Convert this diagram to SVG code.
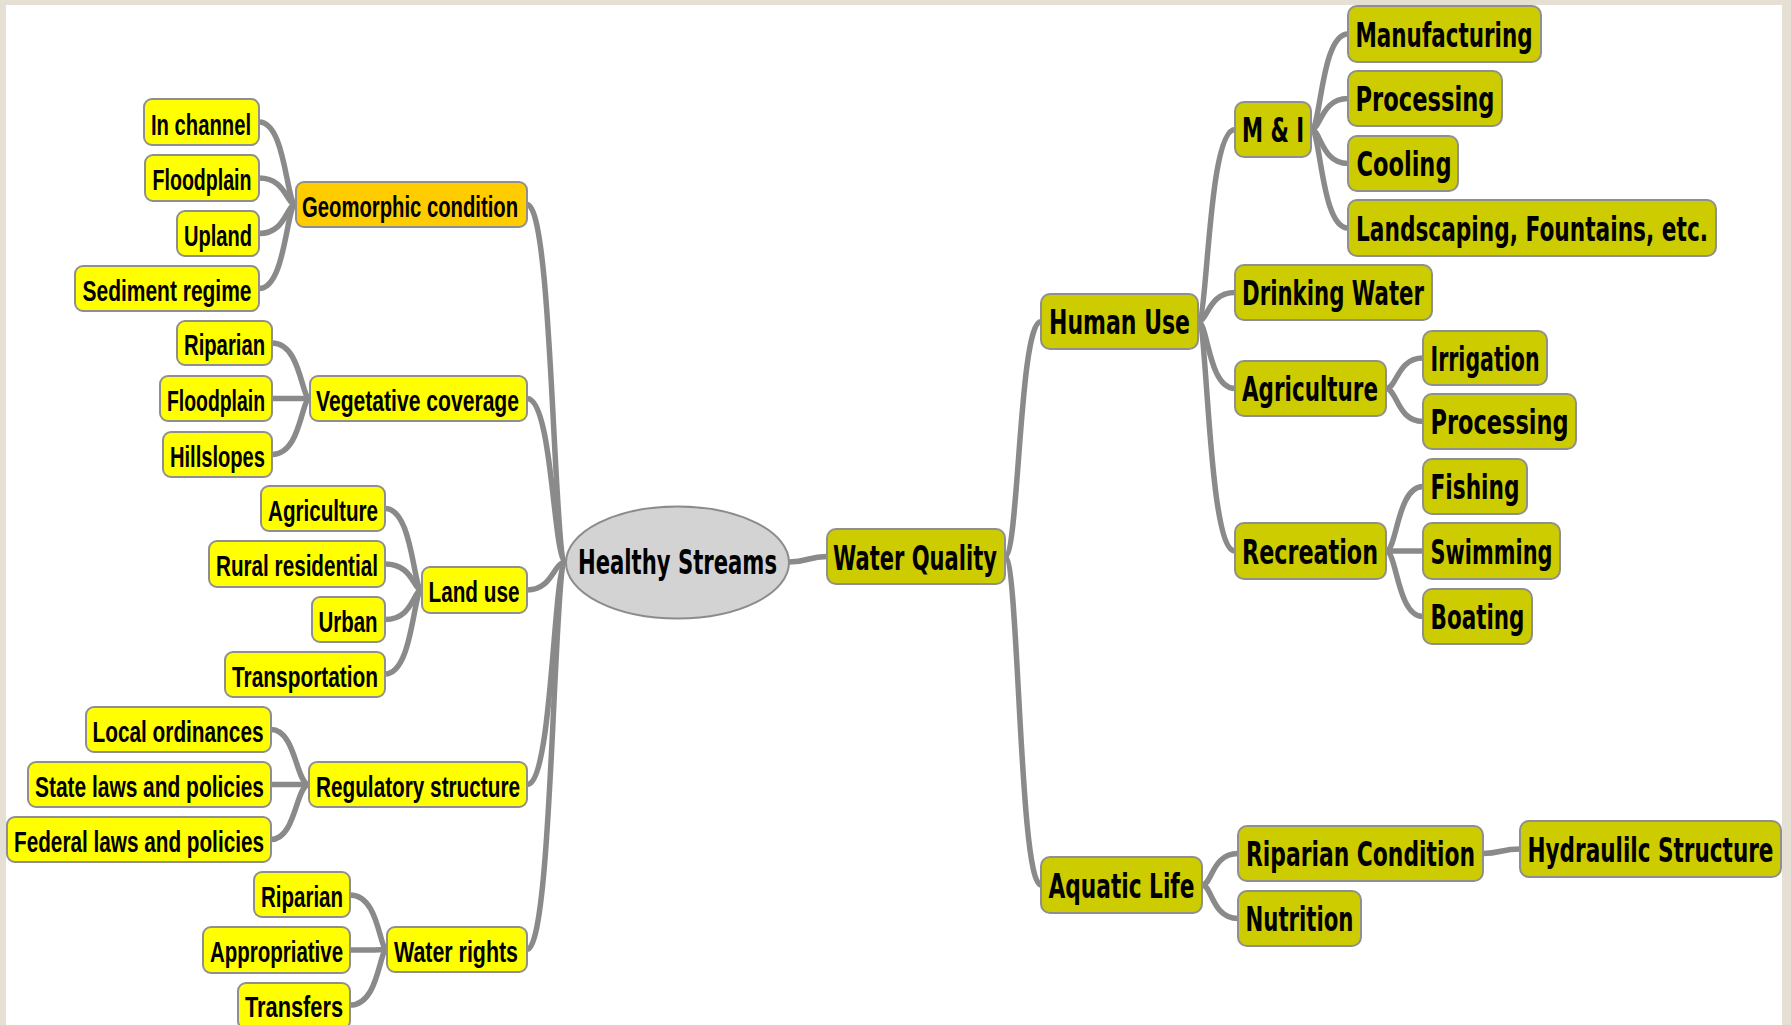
<svg xmlns="http://www.w3.org/2000/svg" width="1791" height="1025" viewBox="0 0 1791 1025">
  <style>
    .frame { fill: #e6dfd3; }
    .panel { fill: #ffffff; }
    .edge { fill: none; stroke: #8a8a8a; stroke-width: 5.5; stroke-linecap: round; }
    .bl { fill: #ffff00; stroke: #8f8f8f; stroke-width: 2; }
    .bg { fill: #ffcc00; stroke: #8f8f8f; stroke-width: 2; }
    .br { fill: #cccc00; stroke: #8f8f8f; stroke-width: 2; }
    .root { fill: #d3d3d3; stroke: #8c8c8c; stroke-width: 2; }
    /* condensed labels: glyphs are narrowed by a horizontal scale on each text */
    .tl { font-family: "Liberation Sans", Arial, sans-serif; font-weight: bold; font-size: 30px; fill: #000; text-anchor: middle; }
    .tr { font-family: "DejaVu Sans", Verdana, "Liberation Sans", sans-serif; font-weight: bold; font-size: 33px; fill: #000; text-anchor: middle; }
  </style>

  <!-- textured frame and white drawing panel -->
  <rect class="frame" x="0" y="0" width="1791" height="1025"/>
  <rect class="panel" x="6" y="5" width="1776" height="1025"/>

  <!-- connectors (drawn beneath the nodes) -->
  <g id="connectors">
    <!-- root to left branches -->
    <path class="edge" d="M527 204.5 C553 204.5 553 562 566 562"/>
    <path class="edge" d="M527 398.5 C553 398.5 553 562 566 562"/>
    <path class="edge" d="M527 590 C553 590 553 562 566 562"/>
    <path class="edge" d="M527 784.5 C553 784.5 553 562 566 562"/>
    <path class="edge" d="M527 949.5 C553 949.5 553 562 566 562"/>
    <!-- geomorphic condition -->
    <path class="edge" d="M259 122 C286 122 286 204.5 296 204.5"/>
    <path class="edge" d="M259 178 C286 178 286 204.5 296 204.5"/>
    <path class="edge" d="M259 233.5 C286 233.5 286 204.5 296 204.5"/>
    <path class="edge" d="M259 288.5 C286 288.5 286 204.5 296 204.5"/>
    <!-- vegetative coverage -->
    <path class="edge" d="M272 343 C301 343 301 398.5 310 398.5"/>
    <path class="edge" d="M272 398.5 C301 398.5 301 398.5 310 398.5"/>
    <path class="edge" d="M272 454.5 C301 454.5 301 398.5 310 398.5"/>
    <!-- land use -->
    <path class="edge" d="M385 508.5 C413 508.5 413 590 422 590"/>
    <path class="edge" d="M385 564 C413 564 413 590 422 590"/>
    <path class="edge" d="M385 619.5 C413 619.5 413 590 422 590"/>
    <path class="edge" d="M385 674 C413 674 413 590 422 590"/>
    <!-- regulatory structure -->
    <path class="edge" d="M271 729.5 C296 729.5 296 784.5 309 784.5"/>
    <path class="edge" d="M271 784.5 C296 784.5 296 784.5 309 784.5"/>
    <path class="edge" d="M271 839.5 C296 839.5 296 784.5 309 784.5"/>
    <!-- water rights -->
    <path class="edge" d="M350 895 C379 895 379 949.5 387 949.5"/>
    <path class="edge" d="M350 950 C379 950 379 949.5 387 949.5"/>
    <path class="edge" d="M350 1005 C379 1005 379 949.5 387 949.5"/>
    <!-- root to water quality -->
    <path class="edge" d="M789 562 C808 562 808 556.5 827 556.5"/>
    <!-- water quality -->
    <path class="edge" d="M1005 556.5 C1019 556.5 1019 321.5 1041 321.5"/>
    <path class="edge" d="M1005 556.5 C1019 556.5 1019 885 1041 885"/>
    <!-- human use -->
    <path class="edge" d="M1198 321.5 C1208 321.5 1208 129.5 1235 129.5"/>
    <path class="edge" d="M1198 321.5 C1208 321.5 1208 292.5 1235 292.5"/>
    <path class="edge" d="M1198 321.5 C1208 321.5 1208 388.5 1235 388.5"/>
    <path class="edge" d="M1198 321.5 C1208 321.5 1208 551 1235 551"/>
    <!-- M & I -->
    <path class="edge" d="M1311 129.5 C1321 129.5 1321 34 1348 34"/>
    <path class="edge" d="M1311 129.5 C1321 129.5 1321 98.5 1348 98.5"/>
    <path class="edge" d="M1311 129.5 C1321 129.5 1321 163.5 1348 163.5"/>
    <path class="edge" d="M1311 129.5 C1321 129.5 1321 228 1348 228"/>
    <!-- agriculture -->
    <path class="edge" d="M1386 388.5 C1397 388.5 1397 358 1423 358"/>
    <path class="edge" d="M1386 388.5 C1397 388.5 1397 421.5 1423 421.5"/>
    <!-- recreation -->
    <path class="edge" d="M1386 551 C1397 551 1397 486.5 1423 486.5"/>
    <path class="edge" d="M1386 551 C1397 551 1397 551 1423 551"/>
    <path class="edge" d="M1386 551 C1397 551 1397 616.5 1423 616.5"/>
    <!-- aquatic life -->
    <path class="edge" d="M1202 885 C1212 885 1212 853.5 1238 853.5"/>
    <path class="edge" d="M1202 885 C1212 885 1212 918.5 1238 918.5"/>
    <!-- riparian condition -->
    <path class="edge" d="M1483 853.5 C1501 853.5 1501 849 1520 849"/>
  </g>

  <!-- left branches -->
  <g id="n-in-channel"><rect class="bl" x="144" y="99" width="115" height="46" rx="8"/><text class="tl" transform="translate(201 135) scale(0.7 1)" textLength="142.9" lengthAdjust="spacingAndGlyphs">In channel</text></g>
  <g id="n-floodplain-geo"><rect class="bl" x="145" y="155" width="114" height="46" rx="8"/><text class="tl" transform="translate(202 190) scale(0.7 1)" textLength="141.4" lengthAdjust="spacingAndGlyphs">Floodplain</text></g>
  <g id="n-upland"><rect class="bl" x="177" y="211" width="82" height="45" rx="8"/><text class="tl" transform="translate(218 245.5) scale(0.7 1)" textLength="97.1" lengthAdjust="spacingAndGlyphs">Upland</text></g>
  <g id="n-sediment"><rect class="bl" x="75" y="266" width="184" height="45" rx="8"/><text class="tl" transform="translate(167 300.5) scale(0.7 1)" textLength="241.4" lengthAdjust="spacingAndGlyphs">Sediment regime</text></g>
  <g id="n-geomorphic"><rect class="bg" x="296" y="182" width="231" height="45" rx="8"/><text class="tl" transform="translate(410 216.5) scale(0.7 1)" textLength="308.6" lengthAdjust="spacingAndGlyphs">Geomorphic condition</text></g>

  <g id="n-riparian-veg"><rect class="bl" x="177" y="321" width="95" height="44" rx="8"/><text class="tl" transform="translate(224.5 355) scale(0.7 1)" textLength="115.7" lengthAdjust="spacingAndGlyphs">Riparian</text></g>
  <g id="n-floodplain-veg"><rect class="bl" x="160" y="376" width="112" height="45" rx="8"/><text class="tl" transform="translate(216 410.5) scale(0.7 1)" textLength="140" lengthAdjust="spacingAndGlyphs">Floodplain</text></g>
  <g id="n-hillslopes"><rect class="bl" x="163" y="432" width="109" height="45" rx="8"/><text class="tl" transform="translate(217.5 466.5) scale(0.7 1)" textLength="135.7" lengthAdjust="spacingAndGlyphs">Hillslopes</text></g>
  <g id="n-vegetative"><rect class="bl" x="310" y="376" width="217" height="45" rx="8"/><text class="tl" transform="translate(417.5 410.5) scale(0.7 1)" textLength="290" lengthAdjust="spacingAndGlyphs">Vegetative coverage</text></g>

  <g id="n-agriculture-land"><rect class="bl" x="261" y="486" width="124" height="45" rx="8"/><text class="tl" transform="translate(323 520.5) scale(0.7 1)" textLength="157.1" lengthAdjust="spacingAndGlyphs">Agriculture</text></g>
  <g id="n-rural"><rect class="bl" x="209" y="541" width="176" height="46" rx="8"/><text class="tl" transform="translate(297 576) scale(0.7 1)" textLength="231.4" lengthAdjust="spacingAndGlyphs">Rural residential</text></g>
  <g id="n-urban"><rect class="bl" x="312" y="597" width="73" height="45" rx="8"/><text class="tl" transform="translate(348 631.5) scale(0.7 1)" textLength="84.3" lengthAdjust="spacingAndGlyphs">Urban</text></g>
  <g id="n-transport"><rect class="bl" x="225" y="652" width="160" height="45" rx="8"/><text class="tl" transform="translate(305 686.5) scale(0.7 1)" textLength="208.6" lengthAdjust="spacingAndGlyphs">Transportation</text></g>
  <g id="n-landuse"><rect class="bl" x="422" y="567" width="105" height="46" rx="8"/><text class="tl" transform="translate(474 602) scale(0.7 1)" textLength="130" lengthAdjust="spacingAndGlyphs">Land use</text></g>

  <g id="n-local"><rect class="bl" x="86" y="707" width="185" height="45" rx="8"/><text class="tl" transform="translate(178 741.5) scale(0.7 1)" textLength="244.3" lengthAdjust="spacingAndGlyphs">Local ordinances</text></g>
  <g id="n-state"><rect class="bl" x="28" y="762" width="243" height="45" rx="8"/><text class="tl" transform="translate(149.5 796.5) scale(0.7 1)" textLength="327.1" lengthAdjust="spacingAndGlyphs">State laws and policies</text></g>
  <g id="n-federal"><rect class="bl" x="7" y="817" width="264" height="45" rx="8"/><text class="tl" transform="translate(139 851.5) scale(0.7 1)" textLength="357.1" lengthAdjust="spacingAndGlyphs">Federal laws and policies</text></g>
  <g id="n-regulatory"><rect class="bl" x="309" y="762" width="218" height="45" rx="8"/><text class="tl" transform="translate(418 796.5) scale(0.7 1)" textLength="291.4" lengthAdjust="spacingAndGlyphs">Regulatory structure</text></g>

  <g id="n-riparian-wr"><rect class="bl" x="254" y="872" width="96" height="45" rx="8"/><text class="tl" transform="translate(302 906.5) scale(0.7 1)" textLength="117.1" lengthAdjust="spacingAndGlyphs">Riparian</text></g>
  <g id="n-appropriative"><rect class="bl" x="203" y="927" width="147" height="46" rx="8"/><text class="tl" transform="translate(276.5 962) scale(0.7 1)" textLength="190" lengthAdjust="spacingAndGlyphs">Appropriative</text></g>
  <g id="n-transfers"><rect class="bl" x="238" y="983" width="112" height="46" rx="8"/><text class="tl" transform="translate(294 1017) scale(0.7 1)" textLength="140" lengthAdjust="spacingAndGlyphs">Transfers</text></g>
  <g id="n-waterrights"><rect class="bl" x="387" y="927" width="140" height="45" rx="8"/><text class="tl" transform="translate(456 961.5) scale(0.7 1)" textLength="177.1" lengthAdjust="spacingAndGlyphs">Water rights</text></g>

  <!-- central topic -->
  <g id="n-root"><ellipse class="root" cx="677.5" cy="562.5" rx="111.5" ry="56"/><text class="tr" transform="translate(677.5 574) scale(0.66 1)" textLength="301.5" lengthAdjust="spacingAndGlyphs">Healthy Streams</text></g>
  <g id="n-waterquality"><rect class="br" x="827" y="529" width="178" height="55" rx="9"/><text class="tr" transform="translate(915 569.5) scale(0.66 1)" textLength="248.5" lengthAdjust="spacingAndGlyphs">Water Quality</text></g>

  <!-- right branches -->
  <g id="n-humanuse"><rect class="br" x="1041" y="294" width="157" height="55" rx="9"/><text class="tr" transform="translate(1119.5 334) scale(0.66 1)" textLength="213.6" lengthAdjust="spacingAndGlyphs">Human Use</text></g>
  <g id="n-mi"><rect class="br" x="1235" y="102" width="76" height="55" rx="9"/><text class="tr" transform="translate(1273 142) scale(0.66 1)" textLength="93.9" lengthAdjust="spacingAndGlyphs">M &amp; I</text></g>
  <g id="n-manufacturing"><rect class="br" x="1348" y="6" width="193" height="56" rx="9"/><text class="tr" transform="translate(1444 47) scale(0.66 1)" textLength="268.2" lengthAdjust="spacingAndGlyphs">Manufacturing</text></g>
  <g id="n-processing-mi"><rect class="br" x="1348" y="71" width="154" height="55" rx="9"/><text class="tr" transform="translate(1425 111) scale(0.66 1)" textLength="210.6" lengthAdjust="spacingAndGlyphs">Processing</text></g>
  <g id="n-cooling"><rect class="br" x="1348" y="136" width="110" height="55" rx="9"/><text class="tr" transform="translate(1404 176) scale(0.66 1)" textLength="143.9" lengthAdjust="spacingAndGlyphs">Cooling</text></g>
  <g id="n-landscaping"><rect class="br" x="1348" y="200" width="368" height="56" rx="9"/><text class="tr" transform="translate(1532 241) scale(0.66 1)" textLength="533.3" lengthAdjust="spacingAndGlyphs">Landscaping, Fountains, etc.</text></g>
  <g id="n-drinking"><rect class="br" x="1235" y="265" width="197" height="55" rx="9"/><text class="tr" transform="translate(1333 305) scale(0.66 1)" textLength="275.8" lengthAdjust="spacingAndGlyphs">Drinking Water</text></g>
  <g id="n-agriculture"><rect class="br" x="1235" y="361" width="151" height="55" rx="9"/><text class="tr" transform="translate(1310 401) scale(0.66 1)" textLength="206.1" lengthAdjust="spacingAndGlyphs">Agriculture</text></g>
  <g id="n-irrigation"><rect class="br" x="1423" y="331" width="124" height="54" rx="9"/><text class="tr" transform="translate(1485 370.5) scale(0.66 1)" textLength="165.2" lengthAdjust="spacingAndGlyphs">Irrigation</text></g>
  <g id="n-processing-ag"><rect class="br" x="1423" y="394" width="153" height="55" rx="9"/><text class="tr" transform="translate(1499.5 434) scale(0.66 1)" textLength="209.1" lengthAdjust="spacingAndGlyphs">Processing</text></g>
  <g id="n-recreation"><rect class="br" x="1235" y="523" width="151" height="56" rx="9"/><text class="tr" transform="translate(1310 564) scale(0.66 1)" textLength="206.1" lengthAdjust="spacingAndGlyphs">Recreation</text></g>
  <g id="n-fishing"><rect class="br" x="1423" y="459" width="104" height="55" rx="9"/><text class="tr" transform="translate(1475 499) scale(0.66 1)" textLength="134.8" lengthAdjust="spacingAndGlyphs">Fishing</text></g>
  <g id="n-swimming"><rect class="br" x="1423" y="523" width="137" height="56" rx="9"/><text class="tr" transform="translate(1491.5 564) scale(0.66 1)" textLength="184.8" lengthAdjust="spacingAndGlyphs">Swimming</text></g>
  <g id="n-boating"><rect class="br" x="1423" y="589" width="109" height="55" rx="9"/><text class="tr" transform="translate(1477.5 629) scale(0.66 1)" textLength="142.4" lengthAdjust="spacingAndGlyphs">Boating</text></g>
  <g id="n-aquatic"><rect class="br" x="1041" y="857" width="161" height="56" rx="9"/><text class="tr" transform="translate(1121.5 898) scale(0.66 1)" textLength="221.2" lengthAdjust="spacingAndGlyphs">Aquatic Life</text></g>
  <g id="n-riparian-cond"><rect class="br" x="1238" y="826" width="245" height="55" rx="9"/><text class="tr" transform="translate(1360.5 866) scale(0.66 1)" textLength="347" lengthAdjust="spacingAndGlyphs">Riparian Condition</text></g>
  <g id="n-nutrition"><rect class="br" x="1238" y="891" width="123" height="55" rx="9"/><text class="tr" transform="translate(1299.5 931) scale(0.66 1)" textLength="163.6" lengthAdjust="spacingAndGlyphs">Nutrition</text></g>
  <g id="n-hydraulic"><rect class="br" x="1520" y="821" width="261" height="56" rx="9"/><text class="tr" transform="translate(1650.5 862) scale(0.66 1)" textLength="372.7" lengthAdjust="spacingAndGlyphs">Hydraulilc Structure</text></g>
</svg>
